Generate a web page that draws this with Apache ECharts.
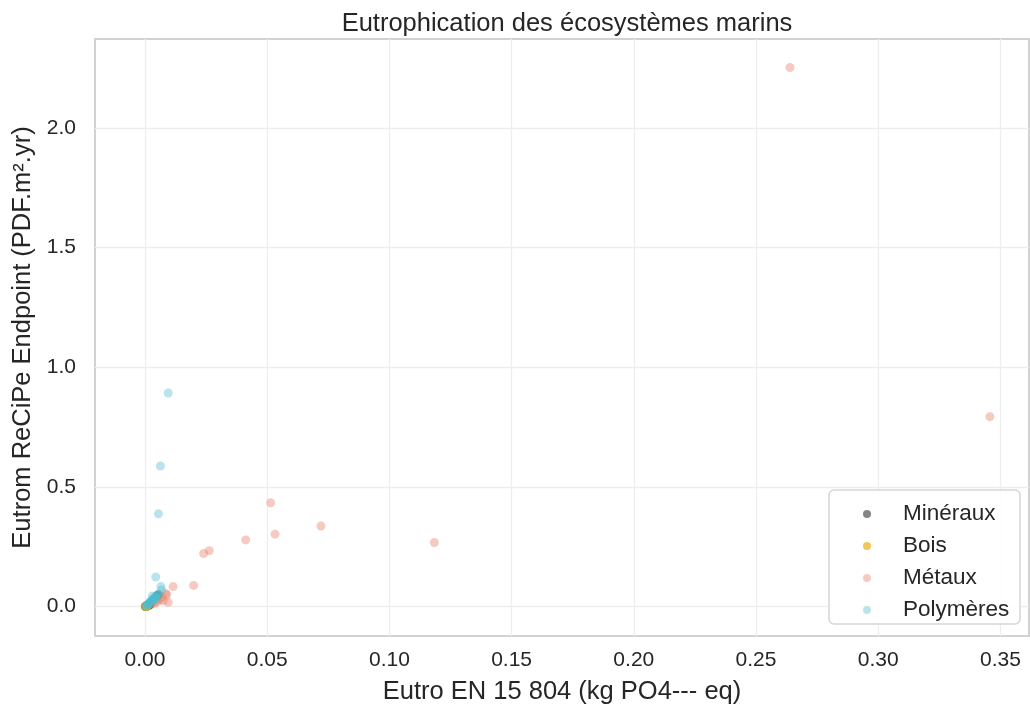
<!DOCTYPE html>
<html>
<head>
<meta charset="utf-8">
<script src="https://cdn.jsdelivr.net/npm/echarts@6/dist/echarts.min.js"></script>
<style>
  html, body { margin: 0; padding: 0; background: #ffffff; }
  #chart { width: 1030px; height: 711px; }
</style>
</head>
<body>
<div id="chart"></div>
<script>
// ---- Data ----
const seriesNames = ['Minéraux', 'Bois', 'Métaux', 'Polymères'];

const mineraux = [
  [0.0002, 0.001], [0.0005, 0.002], [0.0010, 0.004], [0.0015, 0.006],
  [0.0008, 0.003], [0.0003, 0.0005], [0.0020, 0.008], [0.0012, 0.005],
  [0.0054, 0.049], [0.0049, 0.045]
];

const bois = [
  [0.0003, 0.001], [0.0006, 0.002], [0.0010, 0.003]
];

const metaux = [
  [0.2639, 2.253], [0.3457, 0.794], [0.0514, 0.434], [0.0532, 0.303],
  [0.0412, 0.279], [0.0263, 0.234], [0.0240, 0.222], [0.0720, 0.337],
  [0.1184, 0.268], [0.0199, 0.089], [0.0115, 0.084], [0.0089, 0.049],
  [0.0095, 0.018], [0.0085, 0.055], [0.0070, 0.040], [0.0075, 0.025],
  [0.0060, 0.030], [0.0050, 0.020], [0.0040, 0.015], [0.0030, 0.012]
];

const polymeres = [
  [0.0095, 0.893], [0.0063, 0.588], [0.0055, 0.388], [0.0044, 0.124],
  [0.0068, 0.070], [0.0065, 0.084], [0.0005, 0.003], [0.0010, 0.008],
  [0.0015, 0.012], [0.0020, 0.018], [0.0025, 0.022], [0.0030, 0.028],
  [0.0035, 0.032], [0.0040, 0.038], [0.0045, 0.042], [0.0050, 0.048],
  [0.0008, 0.006], [0.0018, 0.015], [0.0028, 0.025], [0.0038, 0.035],
  [0.0048, 0.045], [0.0022, 0.020], [0.0032, 0.030], [0.0042, 0.040],
  [0.0012, 0.010], [0.0055, 0.052], [0.0030, 0.045], [0.0045, 0.030]
];

const titleText = 'Eutrophication des écosystèmes marins';
const xName = 'Eutro EN 15 804 (kg PO4--- eq)';
const yName = 'Eutrom ReCiPe Endpoint (PDF.m².yr)';

// ---- Chart ----
const FONT = '"Liberation Sans", Arial, sans-serif';
const TXT = '#262626';
const colors = ['#444444', '#EDB31E', '#E8806A', '#50BCCC'];
const alphas = [0.65, 0.75, 0.42, 0.4];
const datasets = [mineraux, bois, metaux, polymeres];

const chart = echarts.init(document.getElementById('chart'), null, { renderer: 'canvas' });

chart.setOption({
  animation: false,
  backgroundColor: '#ffffff',
  title: {
    text: titleText,
    left: 562,
    textAlign: 'center',
    top: 6,
    textStyle: { fontFamily: FONT, fontSize: 25.5, fontWeight: 'normal', color: TXT }
  },
  grid: {
    left: 95, right: 1, top: 39, bottom: 75,
    show: true, borderColor: '#d2d2d2', borderWidth: 2, backgroundColor: 'transparent'
  },
  xAxis: {
    type: 'value',
    min: -0.02046, max: 0.3617,
    splitNumber: 8, minInterval: 0.05, maxInterval: 0.05,
    name: xName, nameLocation: 'middle', nameGap: 43,
    nameTextStyle: { fontFamily: FONT, fontSize: 25.5, color: TXT },
    axisLine: { show: false },
    axisTick: { show: false },
    axisLabel: {
      margin: 14, fontFamily: FONT, fontSize: 21, color: TXT,
      showMinLabel: false, showMaxLabel: false,
      formatter: v => v.toFixed(2)
    },
    splitLine: { show: true, showMinLine: false, showMaxLine: false, lineStyle: { color: '#eeeeee', width: 1.3 } }
  },
  yAxis: {
    type: 'value',
    min: -0.1225, max: 2.372,
    splitNumber: 5, minInterval: 0.5, maxInterval: 0.5,
    name: yName, nameLocation: 'middle', nameGap: 55,
    nameTextStyle: { fontFamily: FONT, fontSize: 25.5, color: TXT },
    axisLine: { show: false },
    axisTick: { show: false },
    axisLabel: {
      margin: 19, fontFamily: FONT, fontSize: 21, color: TXT,
      showMinLabel: false, showMaxLabel: false,
      formatter: v => v.toFixed(1)
    },
    splitLine: { show: true, showMinLine: false, showMaxLine: false, lineStyle: { color: '#eeeeee', width: 1.3 } }
  },
  legend: {
    orient: 'vertical',
    left: 858, top: 497,
    icon: 'circle',
    itemWidth: 8, itemHeight: 8, itemGap: 8,
    selectedMode: false,
    z: 10,
    formatter: name => '{g|}' + name,
    textStyle: {
      fontFamily: FONT, fontSize: 22.5, color: TXT, lineHeight: 24,
      rich: { g: { width: 27 } }
    },
    data: seriesNames
  },
  graphic: [{
    type: 'rect',
    z: 9,
    shape: { x: 829, y: 490, width: 191, height: 134, r: 5 },
    style: { fill: 'rgba(255,255,255,0.85)', stroke: '#d6d6d6', lineWidth: 1.5 }
  }],
  series: seriesNames.map((name, i) => ({
    name: name,
    type: 'scatter',
    data: datasets[i],
    symbol: 'circle',
    symbolSize: 9,
    itemStyle: { color: colors[i], opacity: alphas[i] }
  }))
});
</script>
</body>
</html>
